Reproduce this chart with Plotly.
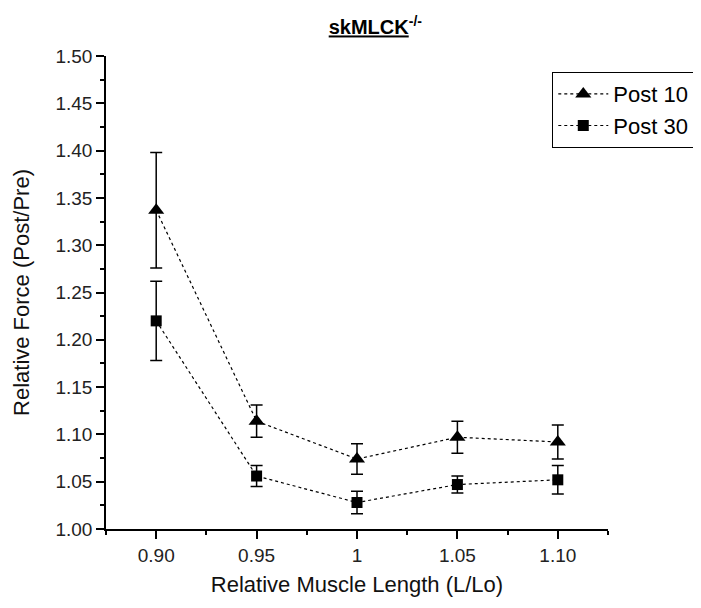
import plotly.graph_objects as go

lengths = [0.90, 0.95, 1.00, 1.05, 1.10]
x_tick_text = ["0.90", "0.95", "1", "1.05", "1.10"]
post10 = [1.337, 1.114, 1.074, 1.097, 1.092]
post10_err = [0.061, 0.017, 0.016, 0.017, 0.018]
post30 = [1.220, 1.056, 1.028, 1.047, 1.052]
post30_err = [0.042, 0.011, 0.012, 0.009, 0.015]
y_ticks = [1.00, 1.05, 1.10, 1.15, 1.20, 1.25, 1.30, 1.35, 1.40, 1.45, 1.50]

FONT = "Liberation Sans, Arial, sans-serif"

fig = go.Figure()
fig.add_trace(go.Scatter(
    x=lengths, y=post10, name="Post 10", mode="lines+markers",
    line=dict(color="black", width=1.2, dash="dot"),
    marker=dict(symbol="triangle-up", size=14, color="black"),
    error_y=dict(type="data", array=post10_err, visible=True, color="black", thickness=1.5, width=6),
))
fig.add_trace(go.Scatter(
    x=lengths, y=post30, name="Post 30", mode="lines+markers",
    line=dict(color="black", width=1.2, dash="dot"),
    marker=dict(symbol="square", size=11, color="black"),
    error_y=dict(type="data", array=post30_err, visible=True, color="black", thickness=1.5, width=6),
))

fig.update_layout(
    width=701, height=608,
    margin=dict(l=98, r=101, t=48, b=87),
    paper_bgcolor="white", plot_bgcolor="white",
    font=dict(family=FONT, color="#111", size=18),
    title=dict(text="<b><u>skMLCK</u><sup>-/-</sup></b>", x=0.524, xref="container", xanchor="center",
               y=0.968, yanchor="middle", font=dict(size=20, color="black")),
    showlegend=True,
    legend=dict(x=0.889, y=0.966, xanchor="left", yanchor="top",
                bordercolor="black", borderwidth=1, bgcolor="white",
                font=dict(size=22, color="black"), itemwidth=50,
                tracegroupgap=0),
    xaxis=dict(range=[0.875, 1.125], tickmode="array", tickvals=lengths, ticktext=x_tick_text,
               showgrid=False, zeroline=False, showline=True, linecolor="black", linewidth=1.5,
               ticks="outside", ticklen=8, tickwidth=1.5, tickcolor="black",
               minor=dict(ticks="outside", ticklen=4, tickwidth=1.5, tickcolor="black", dtick=0.05, tick0=0.925),
               tickfont=dict(size=19, color="#222"),
               title=dict(text="Relative Muscle Length (L/Lo)", font=dict(size=22, color="#111"), standoff=12)),
    yaxis=dict(range=[1.0, 1.5], tickmode="array", tickvals=y_ticks,
               ticktext=[f"{v:.2f}" for v in y_ticks],
               showgrid=False, zeroline=False, showline=True, linecolor="black", linewidth=1.5,
               ticks="outside", ticklen=8, tickwidth=1.5, tickcolor="black",
               minor=dict(ticks="outside", ticklen=4, tickwidth=1.5, tickcolor="black", dtick=0.05, tick0=1.025),
               tickfont=dict(size=19, color="#222"),
               title=dict(text="Relative Force (Post/Pre)", font=dict(size=22, color="#111"), standoff=20)),
)

fig.write_html("out.html")
